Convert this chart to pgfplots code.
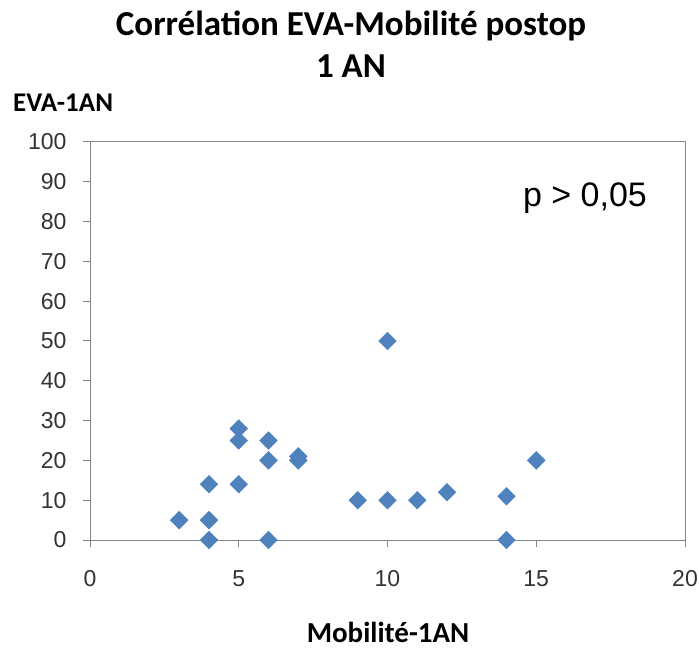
\documentclass[border=0pt]{standalone}
\usepackage{pgfplots}
\pgfplotsset{compat=1.18}
\usepackage{fontspec}
\setmainfont{Carlito}
\newfontfamily\arial{Liberation Sans}
\definecolor{xlblue}{HTML}{4F81BD}
\definecolor{xlgray}{HTML}{868686}

\begin{document}
\begin{tikzpicture}
\path[use as bounding box] (0,0) rectangle (699pt,651pt);
\begin{axis}[
  at={(90pt,111pt)}, anchor=south west,
  scale only axis, width=595pt, height=398pt,
  xmin=0, xmax=20, ymin=0, ymax=100,
  xtick={0,5,...,20}, ytick={0,10,...,100},
  axis line style={xlgray, line width=1pt},
  tick style={xlgray, line width=1pt},
  tick align=outside, major tick length=7pt,
  xtick pos=bottom, ytick pos=left,
  /pgf/number format/assume math mode=true,
  ticklabel style={font=\arial\fontsize{23}{27}\selectfont, text=black!80},
  xticklabel style={yshift=-20pt},
  yticklabel style={xshift=-13pt},
]
\addplot[only marks, mark=square*, mark size=6.3pt,
  mark options={rotate=45, fill=xlblue, draw=xlblue}] coordinates {
  (3,5) (4,14) (4,5) (4,0)
  (5,28) (5,25) (5,14)
  (6,25) (6,20) (6,0)
  (7,21) (7,20)
  (9,10) (10,10) (10,50) (11,10) (12,12)
  (14,11) (14,0) (15,20)
};
\end{axis}
\node[font=\bfseries\fontsize{35}{42}\selectfont, anchor=base] at (351pt,615pt) {Corrélation EVA-Mobilité postop};
\node[font=\bfseries\fontsize{35}{42}\selectfont, anchor=base] at (351pt,573pt) {1 AN};
\node[font=\bfseries\fontsize{27}{32}\selectfont, anchor=base west, inner sep=0pt] at (13pt,539pt) {EVA-1AN};
\node[font=\bfseries\fontsize{29}{34}\selectfont, anchor=base] at (388pt,9pt) {Mobilité-1AN};
\node[font=\arial\fontsize{34}{40}\selectfont, anchor=base] at (585pt,444pt) {p > 0,05};
\end{tikzpicture}
\end{document}
